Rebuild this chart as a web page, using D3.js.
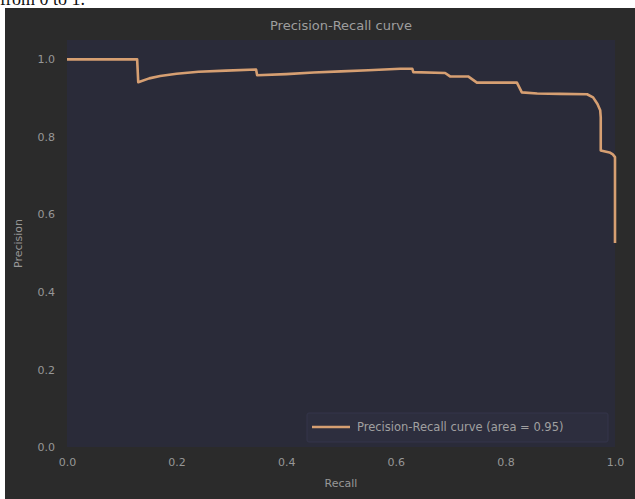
<!DOCTYPE html>
<html>
<head>
<meta charset="utf-8">
<script src="https://cdn.jsdelivr.net/npm/d3@7"></script>
<style>
  html, body { margin: 0; padding: 0; background: #ffffff; }
  svg { display: block; }
  text { font-family: "DejaVu Sans", sans-serif; }
</style>
</head>
<body>
<svg id="chart" width="635" height="499"></svg>
<script>
// Precision-recall curve points (recall on x, precision on y)
const recall = [
  0.000, 0.128, 0.130, 0.150, 0.170, 0.200, 0.240, 0.290, 0.345,
  0.347, 0.400, 0.450, 0.500, 0.550, 0.608,
  0.630, 0.632, 0.690, 0.699, 0.732, 0.748, 0.821, 0.830, 0.858,
  0.900, 0.949, 0.960, 0.968, 0.973, 0.974, 0.974, 0.990, 0.996,
  1.000, 1.000
];
const precision = [
  1.000, 1.000, 0.941, 0.951, 0.957, 0.963, 0.968, 0.971, 0.974,
  0.959, 0.962, 0.966, 0.969, 0.972, 0.976,
  0.976, 0.967, 0.965, 0.956, 0.956, 0.940, 0.940, 0.915, 0.912,
  0.911, 0.910, 0.902, 0.885, 0.869, 0.850, 0.765, 0.760, 0.755,
  0.748, 0.526
];
const xTicks = [0.0, 0.2, 0.4, 0.6, 0.8, 1.0];
const yTicks = [0.0, 0.2, 0.4, 0.6, 0.8, 1.0];
const titleText = "Precision-Recall curve";
const xLabel = "Recall";
const yLabel = "Precision";
const legendLabel = "Precision-Recall curve (area = 0.95)";

const svg = d3.select("#chart");
const W = 635, H = 499;

// page strip above the figure
svg.append("rect").attr("x", 0).attr("y", 0).attr("width", W).attr("height", H).attr("fill", "#ffffff");
svg.append("text")
  .attr("x", 0).attr("y", 5)
  .style("font-family", "'Liberation Serif', serif")
  .style("font-size", "18px")
  .attr("fill", "#111")
  .text("from 0 to 1.");

// figure background
svg.append("rect").attr("x", 5).attr("y", 8).attr("width", W - 5).attr("height", H - 8).attr("fill", "#2b2b2b");

const margin = { left: 67, right: 615, top: 40, bottom: 447 };
const x = d3.scaleLinear().domain([0, 1.0]).range([margin.left, margin.right]);
const y = d3.scaleLinear().domain([0, 1.05]).range([margin.bottom, margin.top]);

// axes background
svg.append("rect")
  .attr("x", x(0)).attr("y", y(1.05))
  .attr("width", x(1) - x(0)).attr("height", y(0) - y(1.05))
  .attr("fill", "#2a2b39");

const tickColor = "#979797";
const fmt = d3.format(".1f");

const gx = svg.append("g")
  .attr("transform", `translate(0,${y(0)})`)
  .call(d3.axisBottom(x).tickValues(xTicks).tickFormat(fmt).tickSize(0).tickPadding(11));
const gy = svg.append("g")
  .attr("transform", `translate(${x(0)},0)`)
  .call(d3.axisLeft(y).tickValues(yTicks).tickFormat(fmt).tickSize(0).tickPadding(12));
[gx, gy].forEach(g => {
  g.select(".domain").remove();
  g.selectAll("text")
    .attr("fill", tickColor)
    .style("font-size", "11px")
    .style("font-family", "'DejaVu Sans', sans-serif");
});

// axis labels and title
svg.append("text")
  .attr("x", (x(0) + x(1)) / 2).attr("y", 487)
  .attr("text-anchor", "middle")
  .attr("fill", tickColor).style("font-size", "11px")
  .text(xLabel);
svg.append("text")
  .attr("transform", `translate(22,${(y(0) + y(1.05)) / 2}) rotate(-90)`)
  .attr("text-anchor", "middle")
  .attr("fill", tickColor).style("font-size", "11px")
  .text(yLabel);
svg.append("text")
  .attr("x", (x(0) + x(1)) / 2).attr("y", 30)
  .attr("text-anchor", "middle")
  .attr("fill", "#9e9e9e").style("font-size", "13px")
  .text(titleText);

// curve
const pts = recall.map((r, i) => [r, precision[i]]);
const line = d3.line().x(d => x(d[0])).y(d => y(d[1]));
svg.append("path")
  .datum(pts)
  .attr("d", line)
  .attr("fill", "none")
  .attr("stroke", "#d69f72")
  .attr("stroke-width", 2.6)
  .attr("stroke-linejoin", "round");

// legend
const lg = svg.append("g");
lg.append("rect")
  .attr("x", 307).attr("y", 413).attr("width", 301).attr("height", 29)
  .attr("rx", 2)
  .attr("fill", "#2d2e3e").attr("stroke", "#34354a").attr("stroke-width", 1);
lg.append("line")
  .attr("x1", 312).attr("x2", 350).attr("y1", 427).attr("y2", 427)
  .attr("stroke", "#d69f72").attr("stroke-width", 2.6);
lg.append("text")
  .attr("x", 357).attr("y", 431)
  .attr("fill", "#a0a0a0").style("font-size", "11.5px")
  .text(legendLabel);
</script>
</body>
</html>
